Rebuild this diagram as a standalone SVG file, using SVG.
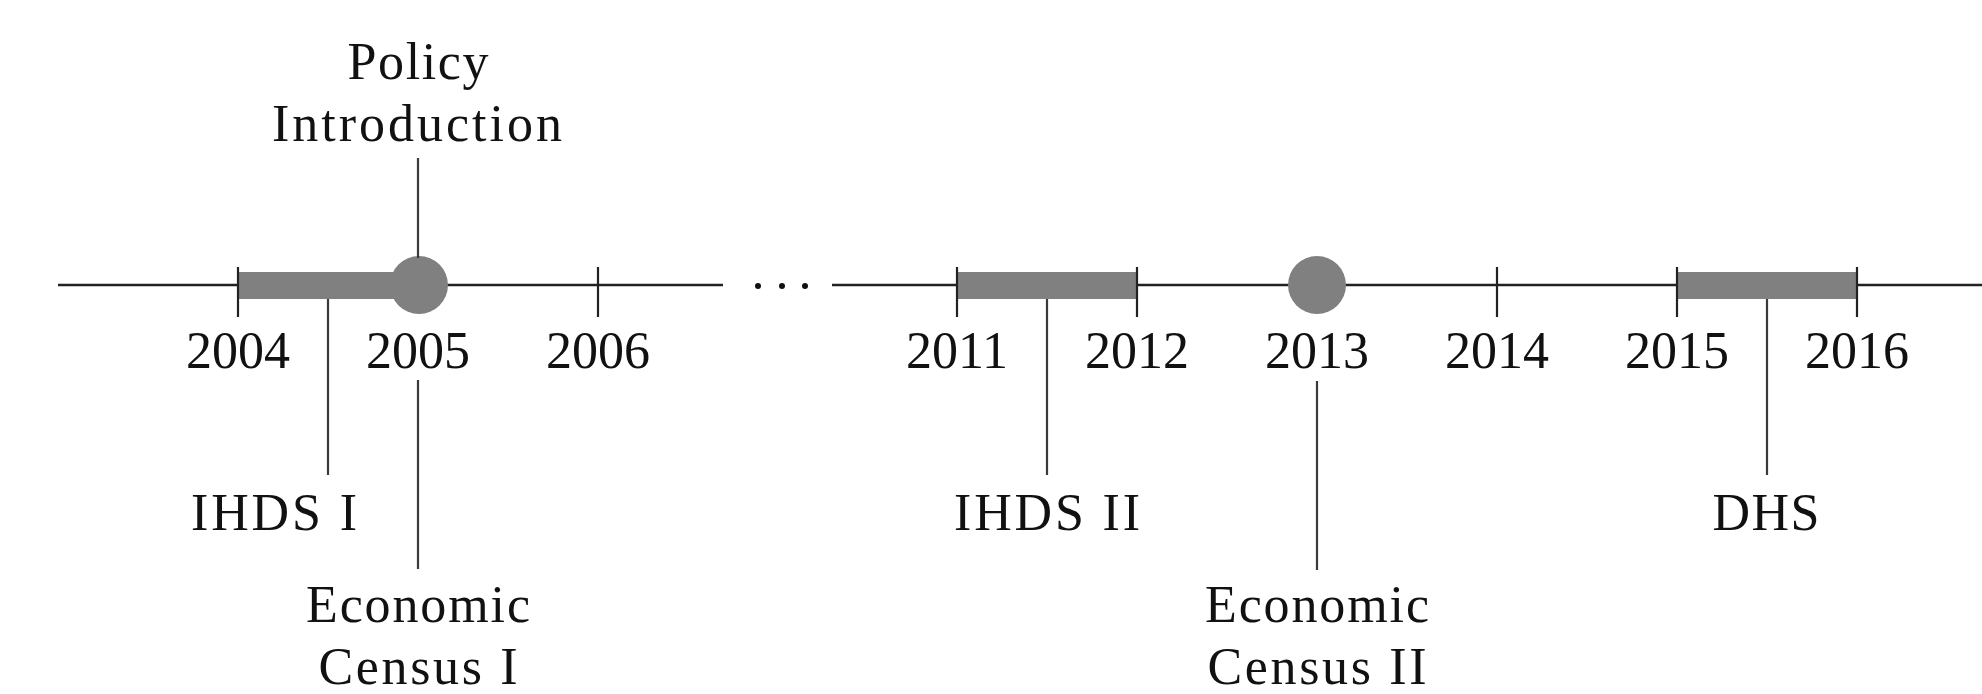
<svg xmlns="http://www.w3.org/2000/svg" width="1982" height="694" viewBox="0 0 1982 694">
<style>
  .axis{stroke:#222;stroke-width:2.4;fill:none}
  .tick{stroke:#222;stroke-width:2.2}
  .bar{fill:#808080}
  .dot{fill:#808080}
  .conn{stroke:#3a3a3a;stroke-width:2.2}
  text{font-family:"Liberation Serif","Times New Roman",serif;font-size:52px;fill:#111;text-anchor:middle}
</style>
<rect width="1982" height="694" fill="#fff"/>
<g id="axis">
  <line class="axis" x1="58" y1="285" x2="723" y2="285"/>
  <line class="axis" x1="832" y1="285" x2="1982" y2="285"/>
  <circle cx="758" cy="286" r="3" fill="#111"/>
  <circle cx="782" cy="286" r="3" fill="#111"/>
  <circle cx="805" cy="286" r="3" fill="#111"/>
</g>
<g id="bars">
  <rect class="bar" x="238" y="272" width="181" height="27"/>
  <rect class="bar" x="957" y="272" width="180" height="27"/>
  <rect class="bar" x="1677" y="272" width="180" height="27"/>
  <circle class="dot" cx="419" cy="285" r="29"/>
  <circle class="dot" cx="1317" cy="285" r="29"/>
</g>
<g id="ticks">
  <line class="tick" x1="238" y1="267" x2="238" y2="317"/>
  <line class="tick" x1="598" y1="267" x2="598" y2="317"/>
  <line class="tick" x1="957" y1="267" x2="957" y2="317"/>
  <line class="tick" x1="1137" y1="267" x2="1137" y2="317"/>
  <line class="tick" x1="1497" y1="267" x2="1497" y2="317"/>
  <line class="tick" x1="1677" y1="267" x2="1677" y2="317"/>
  <line class="tick" x1="1857" y1="267" x2="1857" y2="317"/>
</g>
<g id="years">
  <text x="238" y="368">2004</text>
  <text x="418" y="368">2005</text>
  <text x="598" y="368">2006</text>
  <text x="957" y="368">2011</text>
  <text x="1137" y="368">2012</text>
  <text x="1317" y="368">2013</text>
  <text x="1497" y="368">2014</text>
  <text x="1677" y="368">2015</text>
  <text x="1857" y="368">2016</text>
</g>
<g id="connectors">
  <line class="conn" x1="418" y1="158" x2="418" y2="258"/>
  <line class="conn" x1="328" y1="299" x2="328" y2="475"/>
  <line class="conn" x1="418" y1="380" x2="418" y2="569"/>
  <line class="conn" x1="1047" y1="299" x2="1047" y2="475"/>
  <line class="conn" x1="1317" y1="381" x2="1317" y2="570"/>
  <line class="conn" x1="1767" y1="299" x2="1767" y2="475"/>
</g>
<g id="policy">
  <text x="418" y="79" textLength="141" lengthAdjust="spacing">Policy</text>
  <text x="417" y="141" textLength="290" lengthAdjust="spacing">Introduction</text>
</g>
<g id="ihds1">
  <text x="274" y="530" textLength="166" lengthAdjust="spacing">IHDS I</text>
</g>
<g id="census1">
  <text x="418" y="622" textLength="224" lengthAdjust="spacing">Economic</text>
  <text x="418" y="684" textLength="199" lengthAdjust="spacing">Census I</text>
</g>
<g id="ihds2">
  <text x="1047" y="530" textLength="186" lengthAdjust="spacing">IHDS II</text>
</g>
<g id="census2">
  <text x="1317" y="622" textLength="224" lengthAdjust="spacing">Economic</text>
  <text x="1317" y="684" textLength="219" lengthAdjust="spacing">Census II</text>
</g>
<g id="dhs">
  <text x="1766" y="530" textLength="107" lengthAdjust="spacing">DHS</text>
</g>
</svg>
